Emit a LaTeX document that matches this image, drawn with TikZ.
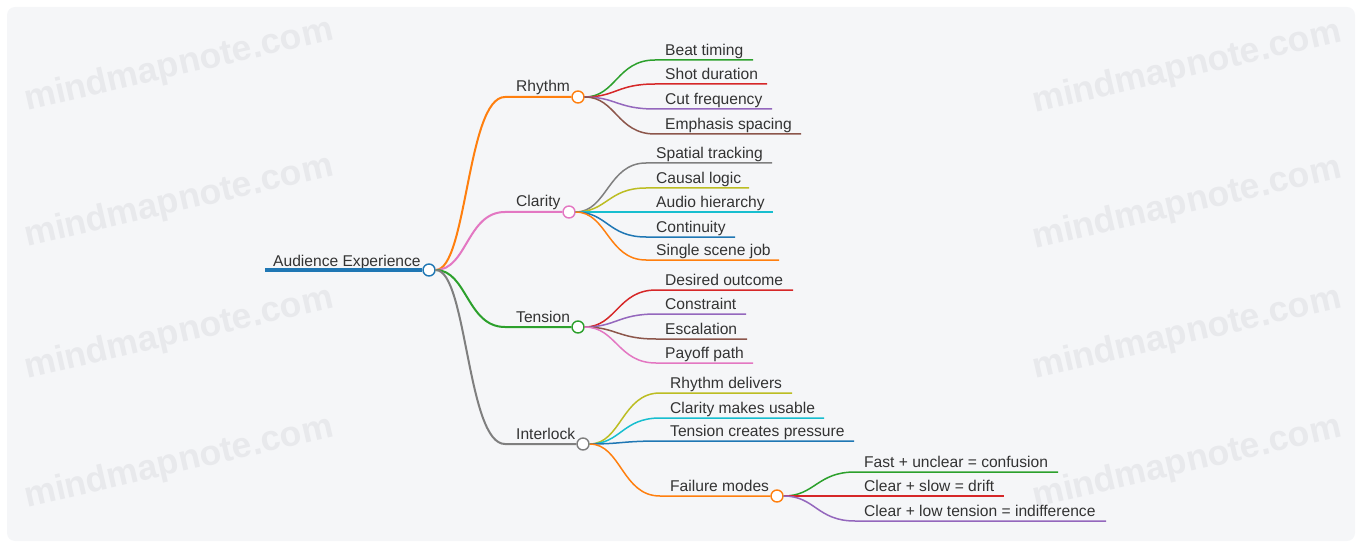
\documentclass[tikz,border=0pt]{standalone}
\usepackage{fontspec}
\setmainfont{Liberation Sans}
\usetikzlibrary{arrows,shapes}
\definecolor{cBlue}{HTML}{1F77B4}
\definecolor{cOrange}{HTML}{FF7F0E}
\definecolor{cGreen}{HTML}{2CA02C}
\definecolor{cRed}{HTML}{D62728}
\definecolor{cPurple}{HTML}{9467BD}
\definecolor{cBrown}{HTML}{8C564B}
\definecolor{cPink}{HTML}{E377C2}
\definecolor{cGray}{HTML}{7F7F7F}
\definecolor{cOlive}{HTML}{BCBD22}
\definecolor{cCyan}{HTML}{17BECF}
\definecolor{ink}{HTML}{333333}
\definecolor{paper}{HTML}{F5F6F8}
\definecolor{wmgray}{HTML}{E8E9EC}
\tikzstyle{hub}=[circle,draw,fill=white,minimum size=12pt,inner sep=0pt,line width=1.4pt]
\tikzstyle{txt}=[anchor=base west,inner sep=0pt,text=ink,font=\fontsize{15.6}{18}\selectfont]
\tikzstyle{limb}=[draw,line width=2pt,to path={.. controls +(38,0) and +(-38,0) .. (\tikztotarget) \tikztonodes}]
\tikzstyle{twig}=[draw,line width=1.5pt,to path={.. controls +(38,0) and +(-38,0) .. (\tikztotarget) \tikztonodes}]
\tikzstyle{wmark}=[rotate=13,text=wmgray,inner sep=0pt,font=\fontsize{35.5}{36}\selectfont\bfseries]

\begin{document}
\begin{tikzpicture}[x=1pt,y=-1pt]
                    \useasboundingbox (0,0) rectangle (1362,548);
                    \path[fill=paper,rounded corners=8pt] (7,7) rectangle (1355,541);

                    % watermark
                    \node[wmark] (wm1) at (179,66) {mindmapnote.com};
                    \node[wmark] (wm2) at (179,202) {mindmapnote.com};
                    \node[wmark] (wm3) at (179,334) {mindmapnote.com};
                    \node[wmark] (wm4) at (179,463) {mindmapnote.com};
                    \node[wmark] (wm5) at (1187,68) {mindmapnote.com};
                    \node[wmark] (wm6) at (1187,204) {mindmapnote.com};
                    \node[wmark] (wm7) at (1187,334) {mindmapnote.com};
                    \node[wmark] (wm8) at (1187,463) {mindmapnote.com};

                    % root
                    \coordinate (root-w) at (265,270);
                    \node[hub,draw=cBlue] (root) at (429,270) {};
                    \node[txt] (root-t) at (273,266) {Audience Experience};
                    \path[draw,cBlue,line width=4pt] (root-w) -- (root);

                    % level 1
                    \coordinate (rh-s) at (505,97);
                    \coordinate (cl-s) at (505,212);
                    \coordinate (te-s) at (505,327);
                    \coordinate (il-s) at (505,444);
                    \node[hub,draw=cOrange] (rh) at (578,97) {};
                    \node[hub,draw=cPink] (cl) at (569,212) {};
                    \node[hub,draw=cGreen] (te) at (578,327) {};
                    \node[hub,draw=cGray] (il) at (583,444) {};
                    \node[txt] (rh-t) at (516,92) {Rhythm};
                    \node[txt] (cl-t) at (516,207) {Clarity};
                    \node[txt] (te-t) at (516,322) {Tension};
                    \node[txt] (il-t) at (516,439) {Interlock};
                    \path[limb,cOrange] (root) to (rh-s) -- (rh);
                    \path[limb,cPink] (root) to (cl-s) -- (cl);
                    \path[limb,cGreen] (root) to (te-s) -- (te);
                    \path[limb,cGray] (root) to (il-s) -- (il);

                    % rhythm
                    \coordinate (bt-s) at (655,60);  \coordinate (bt-e) at (753,60);
                    \coordinate (sd-s) at (655,84);  \coordinate (sd-e) at (767,84);
                    \coordinate (cf-s) at (655,109); \coordinate (cf-e) at (772,109);
                    \coordinate (es-s) at (655,134); \coordinate (es-e) at (801,134);
                    \node[txt] (bt) at (665,55.5) {Beat timing};
                    \node[txt] (sd) at (665,79.5) {Shot duration};
                    \node[txt] (cf) at (665,104.5) {Cut frequency};
                    \node[txt] (es) at (665,129.5) {Emphasis spacing};
                    \path[twig,cGreen] (rh) to (bt-s) -- (bt-e);
                    \path[twig,cRed] (rh) to (sd-s) -- (sd-e);
                    \path[twig,cPurple] (rh) to (cf-s) -- (cf-e);
                    \path[twig,cBrown] (rh) to (es-s) -- (es-e);

                    % clarity
                    \coordinate (st-s) at (646,163); \coordinate (st-e) at (772,163);
                    \coordinate (lg-s) at (646,188); \coordinate (lg-e) at (749,188);
                    \coordinate (ah-s) at (646,212); \coordinate (ah-e) at (773,212);
                    \coordinate (co-s) at (646,237); \coordinate (co-e) at (735,237);
                    \coordinate (sj-s) at (646,260); \coordinate (sj-e) at (779,260);
                    \node[txt] (st) at (656,158.5) {Spatial tracking};
                    \node[txt] (lg) at (656,183.5) {Causal logic};
                    \node[txt] (ah) at (656,207.5) {Audio hierarchy};
                    \node[txt] (co) at (656,232.5) {Continuity};
                    \node[txt] (sj) at (656,255.5) {Single scene job};
                    \path[twig,cGray] (cl) to (st-s) -- (st-e);
                    \path[twig,cOlive] (cl) to (lg-s) -- (lg-e);
                    \path[twig,cCyan] (cl) to (ah-s) -- (ah-e);
                    \path[twig,cBlue] (cl) to (co-s) -- (co-e);
                    \path[twig,cOrange] (cl) to (sj-s) -- (sj-e);

                    % tension
                    \coordinate (do-s) at (656,290); \coordinate (do-e) at (793,290);
                    \coordinate (cs-s) at (656,314); \coordinate (cs-e) at (746,314);
                    \coordinate (ec-s) at (656,339); \coordinate (ec-e) at (747,339);
                    \coordinate (pp-s) at (656,363); \coordinate (pp-e) at (753,363);
                    \node[txt] (do) at (665,285.5) {Desired outcome};
                    \node[txt] (cs) at (665,309.5) {Constraint};
                    \node[txt] (ec) at (665,334.5) {Escalation};
                    \node[txt] (pp) at (665,358.5) {Payoff path};
                    \path[twig,cRed] (te) to (do-s) -- (do-e);
                    \path[twig,cPurple] (te) to (cs-s) -- (cs-e);
                    \path[twig,cBrown] (te) to (ec-s) -- (ec-e);
                    \path[twig,cPink] (te) to (pp-s) -- (pp-e);

                    % interlock
                    \coordinate (rd-s) at (660,393); \coordinate (rd-e) at (792,393);
                    \coordinate (cu-s) at (660,418); \coordinate (cu-e) at (824,418);
                    \coordinate (tp-s) at (660,441); \coordinate (tp-e) at (854,441);
                    \coordinate (fm-s) at (660,496);
                    \node[hub,draw=cOrange] (fm) at (777,496) {};
                    \node[txt] (rd) at (670,388.5) {Rhythm delivers};
                    \node[txt] (cu) at (670,413.5) {Clarity makes usable};
                    \node[txt] (tp) at (670,436.5) {Tension creates pressure};
                    \node[txt] (fm-t) at (670,491.5) {Failure modes};
                    \path[twig,cOlive] (il) to (rd-s) -- (rd-e);
                    \path[twig,cCyan] (il) to (cu-s) -- (cu-e);
                    \path[twig,cBlue] (il) to (tp-s) -- (tp-e);
                    \path[twig,cOrange] (il) to (fm-s) -- (fm);

                    % failure modes
                    \coordinate (fu-s) at (855,472); \coordinate (fu-e) at (1058,472);
                    \coordinate (dr-s) at (855,496); \coordinate (dr-e) at (1004,496);
                    \coordinate (in-s) at (855,521); \coordinate (in-e) at (1106,521);
                    \node[txt] (fu) at (864,467.5) {Fast + unclear = confusion};
                    \node[txt] (dr) at (864,491.5) {Clear + slow = drift};
                    \node[txt] (in) at (864,516.5) {Clear + low tension = indifference};
                    \path[twig,cGreen] (fm) to (fu-s) -- (fu-e);
                    \path[twig,cRed] (fm) to (dr-s) -- (dr-e);
                    \path[twig,cPurple] (fm) to (in-s) -- (in-e);
\end{tikzpicture}
\end{document}
